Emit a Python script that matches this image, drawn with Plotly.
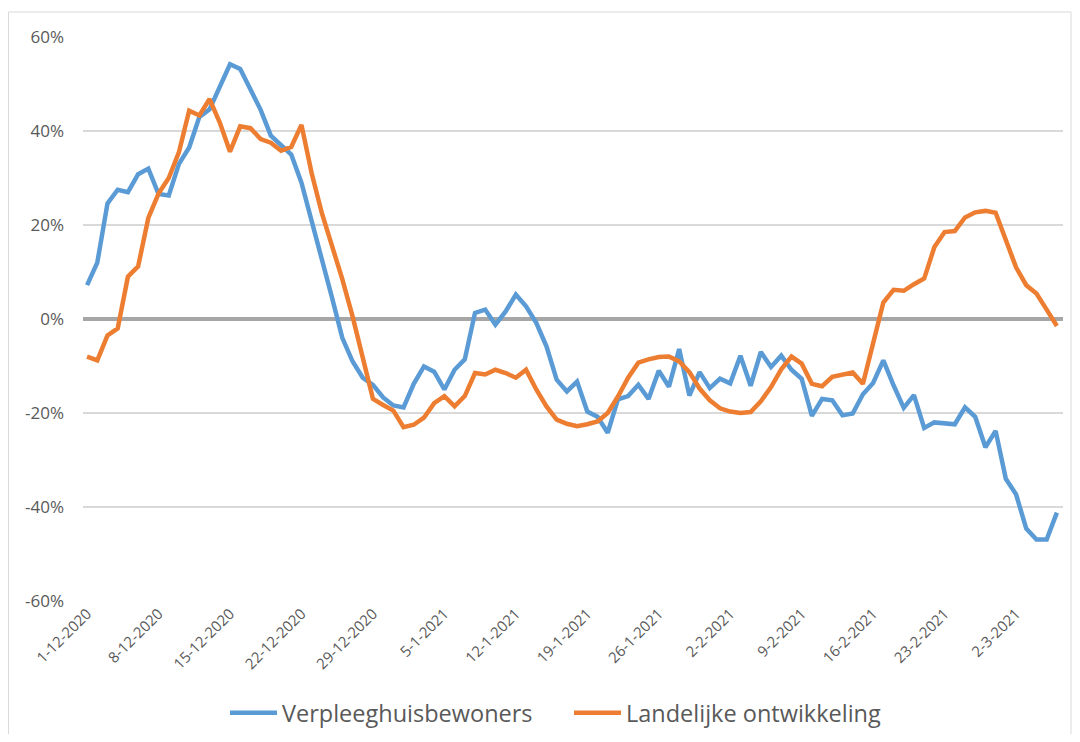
import datetime as dt
import plotly.graph_objects as go

# ---- data -------------------------------------------------------------
start = dt.date(2020, 12, 1)
n_days = 96
dates = []
for i in range(n_days):
    d = start + dt.timedelta(days=i)
    dates.append(f"{d.day}-{d.month}-{d.year}")

verpleeghuis = [
    7.2, 12.0, 24.6, 27.5, 27.0, 30.8, 32.0, 26.6, 26.3, 33.0,
    36.5, 43.0, 44.6, 49.5, 54.2, 53.2, 49.0, 44.5, 39.0, 37.0,
    35.0, 29.0, 21.0, 13.0, 4.5, -4.0, -9.0, -12.5, -14.0, -16.7,
    -18.4, -18.8, -13.8, -10.1, -11.2, -15.0, -10.8, -8.6, 1.3, 2.0,
    -1.2, 1.6, 5.2, 2.7, -0.8, -5.8, -12.9, -15.4, -13.3, -19.7,
    -20.8, -24.2, -17.1, -16.4, -14.0, -17.0, -11.0, -14.4, -6.4, -16.3,
    -11.3, -14.7, -12.7, -13.7, -7.8, -14.2, -7.0, -10.2, -7.8, -10.8,
    -12.7, -20.6, -17.0, -17.3, -20.5, -20.1, -16.0, -13.6, -8.8, -14.1,
    -18.9, -16.2, -23.2, -22.0, -22.3, -22.4, -18.8, -20.8, -27.3, -23.8,
    -34.0, -37.3, -44.6, -46.9, -46.9, -41.2,
]

landelijk = [
    -8.0, -8.8, -3.5, -2.0, 9.0, 11.2, 21.5, 26.7, 30.0, 35.5,
    44.3, 43.3, 46.8, 41.8, 35.6, 41.0, 40.6, 38.3, 37.5, 35.8,
    36.6, 41.3, 31.0, 22.5, 15.5, 8.5, 0.6, -8.0, -17.0, -18.3,
    -19.5, -23.0, -22.5, -21.0, -17.9, -16.4, -18.6, -16.4, -11.5, -11.8,
    -10.8, -11.5, -12.5, -10.8, -15.0, -18.6, -21.4, -22.3, -22.8, -22.4,
    -21.8, -20.0, -16.5, -12.5, -9.3, -8.6, -8.1, -8.0, -9.0, -11.3,
    -14.8, -17.3, -19.0, -19.7, -20.0, -19.8, -17.5, -14.5, -10.7, -8.0,
    -9.5, -13.8, -14.3, -12.3, -11.8, -11.4, -13.8, -5.5, 3.5, 6.2,
    6.0, 7.4, 8.6, 15.3, 18.5, 18.7, 21.6, 22.7, 23.0, 22.6,
    17.0, 11.0, 7.2, 5.4, 2.0, -1.5,
]

tick_labels = dates[::7]
y_ticks = [-60, -40, -20, 0, 20, 40, 60]
y_tick_text = ["-60%", "-40%", "-20%", "0%", "20%", "40%", "60%"]

series_names = ["Verpleeghuisbewoners", "Landelijke ontwikkeling"]
series_colors = ["#5B9BD5", "#ED7D31"]

# ---- geometry (page has an 8px body margin) ----------------------------
OFF = 8
W, H = 1080 - 2 * OFF, 742 - 2 * OFF
L, T = 83 - OFF, 37 - OFF
pw, ph = 980, 564
R = W - L - pw
B = H - T - ph


def px(xp):
    return (xp - OFF - L) / pw


def py(yp):
    return (T + ph - (yp - OFF)) / ph


# ---- figure -----------------------------------------------------------
fig = go.Figure()
for name, vals, col in zip(series_names, [verpleeghuis, landelijk], series_colors):
    fig.add_trace(go.Scatter(
        x=dates, y=vals, mode="lines", name=name,
        line=dict(color=col, width=4.5),
    ))

fig.update_layout(
    width=W, height=H,
    margin=dict(l=L, r=R, t=T, b=B, autoexpand=False),
    paper_bgcolor="white", plot_bgcolor="white",
    font=dict(family="Open Sans", color="#595959"),
    showlegend=True,
    legend=dict(
        orientation="h", x=px(225), xanchor="left",
        y=py(713), yanchor="middle",
        font=dict(size=23.5, color="#595959"),
        itemwidth=47,
        entrywidth=282, entrywidthmode="pixels",
        bgcolor="rgba(0,0,0,0)",
    ),
    xaxis=dict(
        type="category",
        range=[-0.4, n_days - 0.4],
        tickmode="array", tickvals=tick_labels, ticktext=tick_labels,
        tickangle=-45, showgrid=False, zeroline=False,
        showline=False, ticks="",
        tickfont=dict(size=15, color="#595959"),
    ),
    yaxis=dict(
        range=[-60, 60], tickmode="array", tickvals=y_ticks, ticktext=y_tick_text,
        showgrid=True, gridcolor="#D9D9D9", gridwidth=1.5,
        zeroline=True, zerolinecolor="#A6A6A6", zerolinewidth=4,
        showline=False, ticks="",
        tickfont=dict(size=17, color="#595959"),
        ticklabelstandoff=18,
    ),
    shapes=[dict(
        type="rect", xref="paper", yref="paper",
        x0=px(8.5), x1=px(1071),
        y0=py(760), y1=py(12),
        line=dict(color="#D9D9D9", width=1), fillcolor="rgba(0,0,0,0)",
        layer="below",
    )],
)

fig.write_html("out.html")
